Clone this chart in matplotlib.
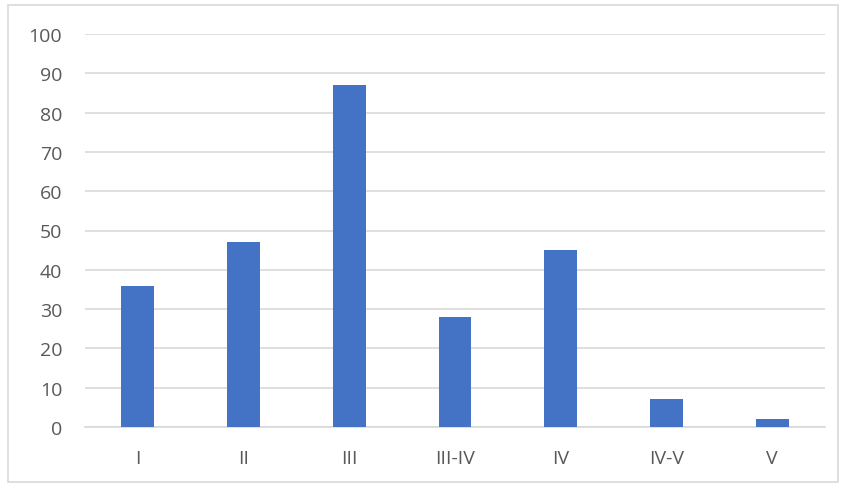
import matplotlib.pyplot as plt
from matplotlib.patches import Rectangle

categories = ["I", "II", "III", "III-IV", "IV", "IV-V", "V"]
values = [36, 47, 87, 28, 45, 7, 2]
yticks = [0, 10, 20, 30, 40, 50, 60, 70, 80, 90, 100]

plt.rcParams['font.family'] = ['Open Sans', 'DejaVu Sans']

fig = plt.figure(figsize=(8.45, 4.89), dpi=100)
ax = fig.add_axes([85 / 845, 1 - 428 / 489, 740 / 845, (428 - 35) / 489])

# rahmen um das ganze bild
fig.patches.append(Rectangle((8 / 845, 6 / 489), 830 / 845, 477 / 489,
                             transform=fig.transFigure, fill=False,
                             edgecolor="#D9D9D9", linewidth=1.2))

x = range(len(categories))
ax.bar(x, values, width=0.31, color="#4472C4", zorder=3)

ax.set_xlim(-0.5, len(categories) - 0.5)
ax.set_ylim(0, 100)
ax.set_yticks(yticks)
ax.set_xticks(list(x))
ax.set_xticklabels(categories)
ax.yaxis.grid(True, color="#D9D9D9", linewidth=1.2, zorder=0)
ax.set_axisbelow(True)

for s in ["top", "right", "left"]:
    ax.spines[s].set_visible(False)
ax.spines["bottom"].set_color("#D9D9D9")
ax.spines["bottom"].set_linewidth(1.2)

ax.tick_params(axis="both", length=0, colors="#595959", labelsize=14)
ax.tick_params(axis="y", pad=16.5)
ax.tick_params(axis="x", pad=16)

fig.savefig("out.png", dpi=100)
